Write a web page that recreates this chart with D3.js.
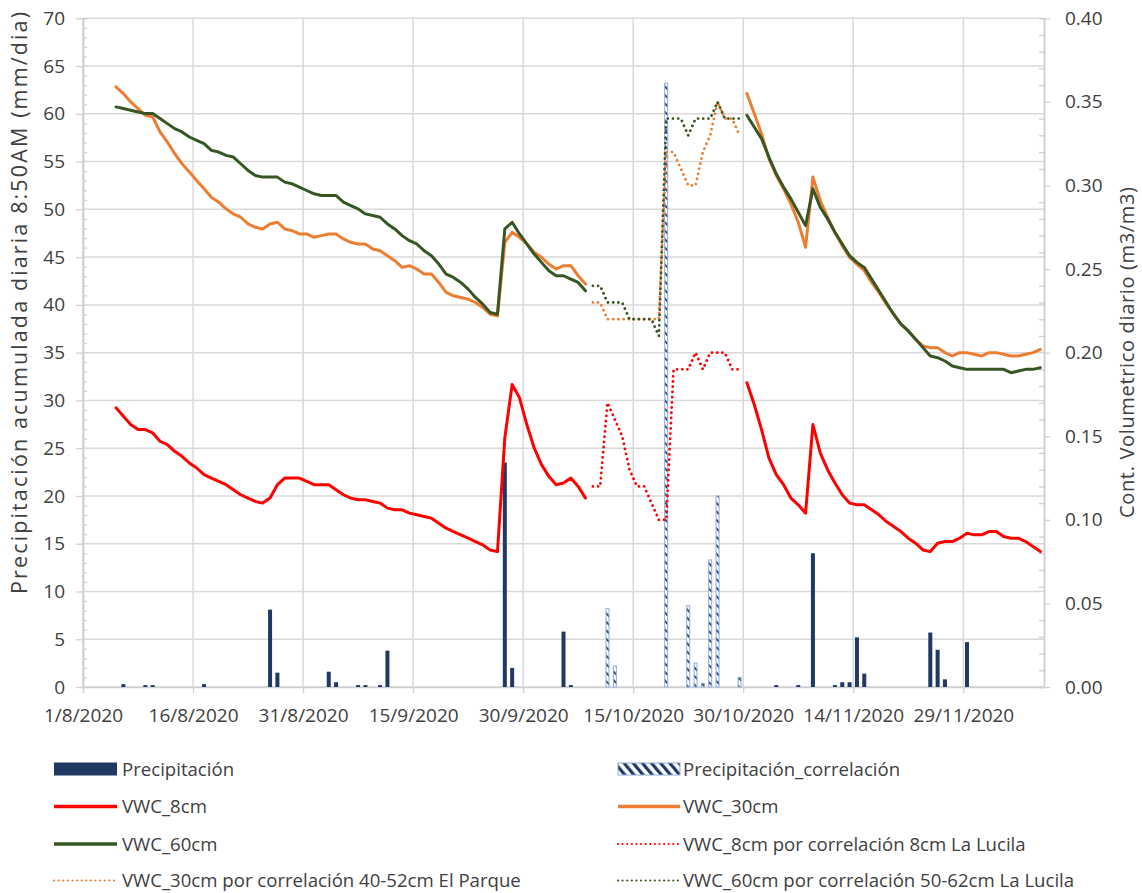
<!DOCTYPE html>
<html><head><meta charset="utf-8">
<script src="https://cdn.jsdelivr.net/npm/d3@7"></script>
<style>
body{margin:0;background:#fff;}
svg text{font-family:"Open Sans",sans-serif;fill:#404040;}
</style>
</head><body>
<svg id="chart" width="1142" height="893"></svg>
<script>
// ---------------- DATA ----------------
const xTickLabels = ["1/8/2020","16/8/2020","31/8/2020","15/9/2020","30/9/2020","15/10/2020","30/10/2020","14/11/2020","29/11/2020"];
const leftTicks = [0,5,10,15,20,25,30,35,40,45,50,55,60,65,70];
const rightTicks = [0,0.05,0.10,0.15,0.20,0.25,0.30,0.35,0.40];

// Precipitación (mm/dia)
const precipDates = ["2020-08-06","2020-08-09","2020-08-10","2020-08-17","2020-08-26","2020-08-27","2020-09-03","2020-09-04","2020-09-07","2020-09-08","2020-09-10","2020-09-11","2020-09-27","2020-09-28","2020-10-05","2020-10-06","2020-11-03","2020-11-06","2020-11-08","2020-11-11","2020-11-12","2020-11-13","2020-11-14","2020-11-15","2020-11-24","2020-11-25","2020-11-26","2020-11-29"];
const precipMm = [0.3,0.2,0.2,0.3,8.1,1.5,1.6,0.5,0.2,0.2,0.2,3.8,23.5,2.0,5.8,0.2,0.2,0.2,14.0,0.2,0.5,0.5,5.2,1.4,5.7,3.9,0.8,4.7];

// Precipitación_correlación (mm/dia)
const precipCorrDates = ["2020-10-11","2020-10-12","2020-10-19","2020-10-22","2020-10-23","2020-10-24","2020-10-25","2020-10-26","2020-10-29"];
const precipCorrMm = [8.2,2.2,63.2,8.5,2.5,0.4,13.3,20.0,1.0];

// VWC (m3/m3), daily values
const vwc8StartA = "2020-08-05";
const vwc8A = [0.167,0.162,0.157,0.154,0.154,0.152,0.147,0.145,0.141,0.138,0.134,0.131,0.127,0.125,0.123,0.121,0.118,0.115,0.113,0.111,0.110,0.113,0.121,0.125,0.125,0.125,0.123,0.121,0.121,0.121,0.118,0.115,0.113,0.112,0.112,0.111,0.110,0.107,0.106,0.106,0.104,0.103,0.102,0.101,0.098,0.095,0.093,0.091,0.089,0.087,0.085,0.082,0.081,0.149,0.181,0.173,0.157,0.143,0.133,0.126,0.121,0.122,0.125,0.120,0.113];
const vwc8StartB = "2020-10-30";
const vwc8B = [0.182,0.169,0.154,0.137,0.127,0.121,0.113,0.109,0.104,0.157,0.140,0.130,0.122,0.115,0.110,0.109,0.109,0.106,0.103,0.099,0.096,0.093,0.089,0.086,0.082,0.081,0.086,0.087,0.087,0.089,0.092,0.091,0.091,0.093,0.093,0.090,0.089,0.089,0.087,0.084,0.081];

const vwc30StartA = "2020-08-05";
const vwc30A = [0.359,0.355,0.350,0.346,0.342,0.341,0.332,0.326,0.319,0.313,0.308,0.303,0.298,0.293,0.290,0.286,0.283,0.281,0.277,0.275,0.274,0.277,0.278,0.274,0.273,0.271,0.271,0.269,0.270,0.271,0.271,0.268,0.266,0.265,0.265,0.262,0.261,0.258,0.255,0.251,0.252,0.250,0.247,0.247,0.242,0.236,0.234,0.233,0.232,0.230,0.227,0.223,0.222,0.266,0.272,0.269,0.265,0.260,0.257,0.253,0.250,0.252,0.252,0.246,0.241];
const vwc30StartB = "2020-10-30";
const vwc30B = [0.355,0.343,0.331,0.316,0.306,0.298,0.289,0.278,0.263,0.305,0.291,0.281,0.272,0.264,0.257,0.253,0.249,0.242,0.236,0.229,0.223,0.217,0.213,0.208,0.204,0.203,0.203,0.200,0.198,0.200,0.200,0.199,0.198,0.200,0.200,0.199,0.198,0.198,0.199,0.200,0.202];

const vwc60StartA = "2020-08-05";
const vwc60A = [0.347,0.346,0.345,0.344,0.343,0.343,0.340,0.337,0.334,0.332,0.329,0.327,0.325,0.321,0.320,0.318,0.317,0.313,0.309,0.306,0.305,0.305,0.305,0.302,0.301,0.299,0.297,0.295,0.294,0.294,0.294,0.290,0.288,0.286,0.283,0.282,0.281,0.277,0.274,0.270,0.267,0.265,0.261,0.258,0.253,0.247,0.245,0.242,0.238,0.233,0.229,0.224,0.223,0.274,0.278,0.271,0.265,0.259,0.254,0.249,0.246,0.246,0.244,0.242,0.237];
const vwc60StartB = "2020-10-30";
const vwc60B = [0.342,0.335,0.328,0.317,0.307,0.299,0.292,0.284,0.276,0.298,0.287,0.280,0.272,0.265,0.258,0.254,0.251,0.244,0.237,0.230,0.223,0.217,0.213,0.208,0.203,0.198,0.197,0.195,0.192,0.191,0.190,0.190,0.190,0.190,0.190,0.190,0.188,0.189,0.190,0.190,0.191];

// correlated series (dotted)
const corrStart = "2020-10-09";
const vwc8Corr  = [0.12,0.12,0.17,0.16,0.15,0.13,0.12,0.12,0.11,0.10,0.10,0.19,0.19,0.19,0.20,0.19,0.20,0.20,0.20,0.19,0.19];
const vwc30Corr = [0.23,0.23,0.22,0.22,0.22,0.22,0.22,0.22,0.22,0.22,0.32,0.32,0.31,0.30,0.30,0.32,0.33,0.35,0.34,0.34,0.33];
const vwc60Corr = [0.24,0.24,0.23,0.23,0.23,0.22,0.22,0.22,0.22,0.21,0.34,0.34,0.34,0.33,0.34,0.34,0.34,0.35,0.34,0.34,0.34];

const legendLabels = ["Precipitación","Precipitación_correlación","VWC_8cm","VWC_30cm","VWC_60cm","VWC_8cm por correlación 8cm La Lucila","VWC_30cm por correlación 40-52cm El Parque","VWC_60cm por correlación 50-62cm La Lucila"];

// ---------------- CHART ----------------
const C = {bar:"#203864", barCorrEdge:"#8faadc", red:"#ff0000", orange:"#ed7d31", green:"#375623", grid:"#d9d9d9", axis:"#d0d0d0", text:"#404040"};
const parseISO = d3.utcParse("%Y-%m-%d");
const parseTick = d3.utcParse("%d/%m/%Y");
const tickDates = xTickLabels.map(parseTick);
const fmtTick = d => `${d.getUTCDate()}/${d.getUTCMonth()+1}/${d.getUTCFullYear()}`;

const P = {left:83, right:1044, top:18.3, bottom:687};
const svg = d3.select("#chart");
const defs = svg.append("defs");
const pat = defs.append("pattern").attr("id","hatch").attr("patternUnits","userSpaceOnUse")
  .attr("width",6).attr("height",6).attr("patternTransform","rotate(-45)");
pat.append("rect").attr("width",6).attr("height",6).attr("fill","#ffffff");
pat.append("rect").attr("width",1.8).attr("height",6).attr("fill",C.bar);
const pat2 = defs.append("pattern").attr("id","hatchLeg").attr("patternUnits","userSpaceOnUse")
  .attr("width",7).attr("height",7).attr("patternTransform","rotate(-40)");
pat2.append("rect").attr("width",7).attr("height",7).attr("fill","#ffffff");
pat2.append("rect").attr("width",3.2).attr("height",7).attr("fill",C.bar);

const x = d3.scaleUtc().domain([parseISO("2020-08-01"), parseISO("2020-12-10")]).range([P.left, P.right]);
const yL = d3.scaleLinear().domain([0,70]).range([P.bottom, P.top]);
const yR = d3.scaleLinear().domain([0,0.40]).range([P.bottom, P.top]);
const mid = d => d3.utcHour.offset(d, 12);

function series(start, arr){ const s = parseISO(start); return arr.map((v,i)=>({date:d3.utcDay.offset(s,i), v})); }

// grid
const grid = svg.append("g");
grid.selectAll("line.h").data(leftTicks).join("line").attr("class","h")
  .attr("x1",P.left).attr("x2",P.right).attr("y1",d=>yL(d)).attr("y2",d=>yL(d))
  .attr("stroke",C.grid).attr("stroke-width",1.5);
grid.selectAll("line.v").data(tickDates).join("line").attr("class","v")
  .attr("x1",d=>x(d)).attr("x2",d=>x(d)).attr("y1",P.top).attr("y2",P.bottom)
  .attr("stroke",C.grid).attr("stroke-width",1.5);

// axes
function styleAxis(g){
  g.selectAll("path.domain").attr("stroke",C.axis).attr("stroke-width",1.5);
  g.selectAll(".tick line").attr("stroke",C.axis).attr("stroke-width",1.3);
  g.selectAll(".tick text").attr("font-family","'Open Sans',sans-serif").attr("font-size",19).attr("fill",C.text);
}
const minorL = d3.range(0,71,1).filter(v=>v%5!==0);
svg.append("g").attr("transform",`translate(${P.left},0)`)
  .call(d3.axisLeft(yL).tickValues(minorL).tickSize(-4).tickFormat("")).call(styleAxis);
svg.append("g").attr("transform",`translate(${P.left},0)`)
  .call(d3.axisLeft(yL).tickValues(leftTicks).tickSizeInner(7).tickSizeOuter(0).tickPadding(11)).call(styleAxis);

const minorR = d3.range(0,41,1).filter(v=>v%5!==0).map(v=>v/100);
svg.append("g").attr("transform",`translate(${P.right},0)`)
  .call(d3.axisRight(yR).tickValues(minorR).tickSize(-5).tickFormat("")).call(styleAxis);
svg.append("g").attr("transform",`translate(${P.right},0)`)
  .call(d3.axisRight(yR).tickValues(rightTicks).tickSizeInner(6).tickSizeOuter(0).tickPadding(15).tickFormat(d3.format(".2f"))).call(styleAxis);

svg.append("g").attr("transform",`translate(0,${P.bottom})`)
  .call(d3.axisBottom(x).tickValues(tickDates).tickSizeInner(6).tickSizeOuter(0).tickPadding(16).tickFormat(fmtTick)).call(styleAxis);

// bars
const bw = 4, bwc = 3;
const precip = precipDates.map((d,i)=>({date:parseISO(d), v:precipMm[i]}));
const precipCorr = precipCorrDates.map((d,i)=>({date:parseISO(d), v:precipCorrMm[i]}));
svg.append("g").selectAll("rect").data(precip).join("rect")
  .attr("x",d=>x(mid(d.date))-bw/2).attr("width",bw)
  .attr("y",d=>yL(d.v)).attr("height",d=>yL(0)-yL(d.v)).attr("fill",C.bar);
svg.append("g").selectAll("rect").data(precipCorr).join("rect")
  .attr("x",d=>x(mid(d.date))-bwc/2).attr("width",bwc)
  .attr("y",d=>yL(d.v)).attr("height",d=>yL(0)-yL(d.v))
  .attr("fill","url(#hatch)").attr("stroke",C.barCorrEdge).attr("stroke-width",1);

// lines
const line = d3.line().x(d=>x(mid(d.date))).y(d=>yR(d.v));
const lines = svg.append("g").attr("fill","none").attr("stroke-linejoin","round");
function solid(data,color){ lines.append("path").datum(data).attr("d",line).attr("stroke",color).attr("stroke-width",3).attr("stroke-linecap","round"); }
function dotted(data,color){ lines.append("path").datum(data).attr("d",line).attr("stroke",color).attr("stroke-width",2.8).attr("stroke-linecap","round").attr("stroke-dasharray","0.01 5.2"); }
solid(series(vwc8StartA,vwc8A),C.red);
solid(series(vwc8StartB,vwc8B),C.red);
solid(series(vwc30StartA,vwc30A),C.orange);
solid(series(vwc30StartB,vwc30B),C.orange);
solid(series(vwc60StartA,vwc60A),C.green);
solid(series(vwc60StartB,vwc60B),C.green);
dotted(series(corrStart,vwc8Corr),C.red);
dotted(series(corrStart,vwc30Corr),C.orange);
dotted(series(corrStart,vwc60Corr),C.green);

// axis titles
svg.append("text").attr("transform","translate(27,303) rotate(-90)").attr("text-anchor","middle")
  .attr("font-size",21.5).attr("textLength",582).attr("lengthAdjust","spacing")
  .text("Precipitación acumulada diaria 8:50AM  (mm/dia)");
svg.append("text").attr("transform","translate(1134,352.5) rotate(-90)").attr("text-anchor","middle")
  .attr("font-size",20).attr("textLength",331).attr("lengthAdjust","spacing")
  .text("Cont. Volumetrico diario (m3/m3)");

// legend
const legItems = [
  {type:"bar"},{type:"hatch"},
  {type:"solid",color:C.red},{type:"solid",color:C.orange},
  {type:"solid",color:C.green},{type:"dot",color:C.red},
  {type:"dot",color:C.orange},{type:"dot",color:C.green}
];
const rowsY = [769,806.5,844,880.5];
const cols = [{x1:54,x2:117,tx:122},{x1:618,x2:680,tx:683}];
const leg = svg.append("g");
legItems.forEach((it,i)=>{
  const c = cols[i%2], y = rowsY[Math.floor(i/2)];
  if(it.type==="bar") leg.append("path").attr("d",`M${c.x1},${y-6.5}H${c.x2}V${y+6.5}H${c.x1}Z`).attr("fill",C.bar);
  else if(it.type==="hatch") leg.append("rect").attr("x",c.x1).attr("y",y-6).attr("width",c.x2-c.x1).attr("height",12).attr("fill","url(#hatchLeg)").attr("stroke",C.barCorrEdge).attr("stroke-width",1);
  else {
    const l = leg.append("line").attr("x1",c.x1).attr("x2",c.x2).attr("y1",y).attr("y2",y).attr("stroke",it.color);
    if(it.type==="solid") l.attr("stroke-width",3.5);
    else l.attr("stroke-width",2.2).attr("stroke-linecap","round").attr("stroke-dasharray","0.01 4.6");
  }
  leg.append("text").attr("x",c.tx).attr("y",y).attr("dy","0.35em").attr("font-size",18.6).text(legendLabels[i]);
});
</script>
</body></html>
